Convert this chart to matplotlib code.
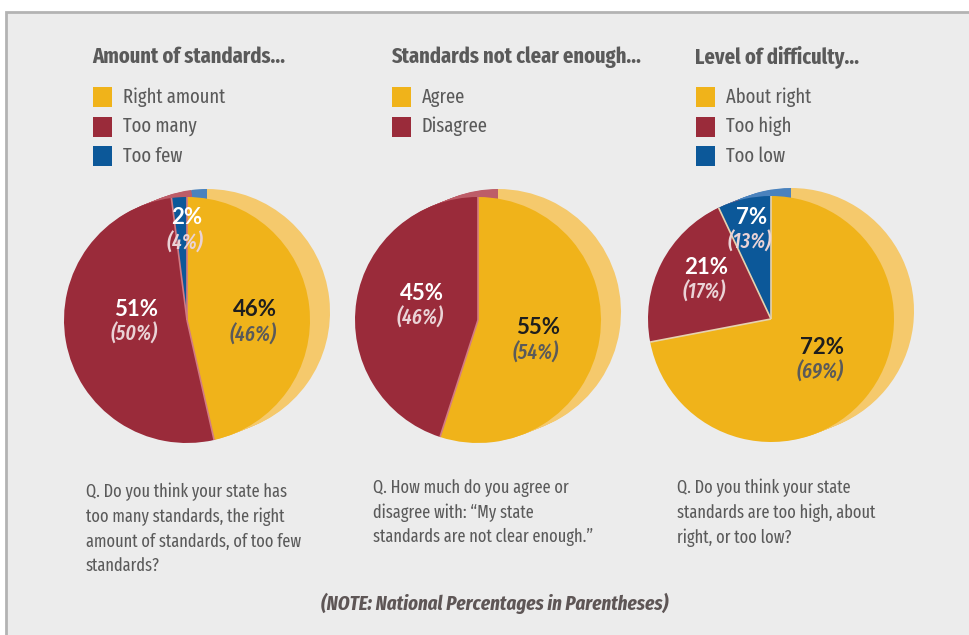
import numpy as np
import matplotlib.pyplot as plt
from matplotlib.patches import Rectangle

W, H = 969, 635

# chart data
titles = ["Amount of standards\u2026", "Standards not clear enough\u2026", "Level of difficulty\u2026"]
labels = [["Right amount", "Too many", "Too few"],
          ["Agree", "Disagree"],
          ["About right", "Too high", "Too low"]]
state_pct = [[46, 51, 2], [55, 45], [72, 21, 7]]
national_pct = [[46, 50, 4], [54, 46], [69, 17, 13]]
questions = ["Q. Do you think your state has\ntoo many standards, the right\namount of standards, of too few\nstandards?",
             "Q. How much do you agree or\ndisagree with: \u201cMy state\nstandards are not clear enough.\u201d",
             "Q. Do you think your state\nstandards are too high, about\nright, or too low?"]
note = "(NOTE: National Percentages in Parentheses)"

colors = ["#f0b31a", "#9a2b3a", "#0c5899"]
side_colors = ["#f5c96c", "#bd5d68", "#4a82bd"]

narrow = ["Fira Sans Extra Condensed", "Roboto Condensed", "DejaVu Sans"]
numfont = ["Lato", "DejaVu Sans"]
grey = "#5a5a5a"

# layout (pixel positions, y measured from top)
centers = [(187, 320), (478, 320), (771, 319)]
radius = 123
title_x = [92, 391, 695]
question_x = [86, 373, 677]
question_y = [483, 479, 479]
# label positions per slice (x, y of the main number)
label_pos = [[(255, 310), (136, 309), (187, 218)],
             [(538, 328), (422, 293)],
             [(822, 347), (706, 267), (752, 217)]]

fig = plt.figure(figsize=(W / 100, H / 100), dpi=100, facecolor="white")
ax = fig.add_axes([0, 0, 1, 1])

ax.add_patch(Rectangle((6, -10), W + 20, H - 12 + 10, facecolor="#ececec",
                       edgecolor="#b3b3b3", linewidth=2, zorder=0))

for i in range(3):
    cx, cy = centers[i]
    n = len(state_pct[i])
    # 3d side: stacked lighter copies shifted up-right
    for t in np.linspace(0.1, 1.0, 10):
        ax.pie(state_pct[i], colors=side_colors[:n], startangle=90, counterclock=False,
               center=(cx + 20 * t, H - cy + 8 * t), radius=radius,
               wedgeprops=dict(linewidth=0), normalize=True)
    wedges, _ = ax.pie(state_pct[i], colors=colors[:n], startangle=90, counterclock=False,
                       center=(cx, H - cy), radius=radius,
                       wedgeprops=dict(linewidth=0), normalize=True)
    # thin light edges between slices
    for w in wedges:
        a = np.deg2rad(w.theta1)
        ax.plot([cx, cx + radius * np.cos(a)], [H - cy, H - cy + radius * np.sin(a)],
                color="#d27b83" if i < 2 else "#e6d2b0", lw=1.2, zorder=5,
                solid_capstyle="butt")

    for j in range(n):
        lx, ly = label_pos[i][j]
        on_yellow = j == 0
        ax.text(lx, H - ly, f"{state_pct[i][j]}%", family=numfont, weight="bold",
                fontsize=16, color="#1e1e1e" if on_yellow else "white",
                ha="center", va="center", zorder=6)
        ax.text(lx - 2, H - ly - 25, f"({national_pct[i][j]}%)", family=narrow,
                style="italic", weight=500, fontsize=15.5,
                color="#5a5a5a" if on_yellow else "#ead3d6",
                ha="center", va="center", zorder=6)

    # title and legend
    ax.text(title_x[i], H - 57, titles[i], family=narrow, weight="bold",
            fontsize=16, color=grey, ha="left", va="center")
    for j, lab in enumerate(labels[i]):
        y = 97 + j * 29.5
        ax.add_patch(Rectangle((title_x[i] + 1, H - y - 10), 19, 20,
                               facecolor=colors[j], edgecolor="none"))
        ax.text(title_x[i] + 31, H - y, lab, family=narrow, fontsize=14.5,
                color=grey, ha="left", va="center")

    ax.text(question_x[i], H - question_y[i], questions[i], family=narrow,
            fontsize=12.8, color=grey, ha="left", va="top", linespacing=1.45)

ax.text(495, H - 604, note, family=narrow, weight="bold", style="italic",
        fontsize=14.8, color="#5e5656", ha="center", va="center")

ax.set_xlim(0, W)
ax.set_ylim(0, H)
ax.axis("off")

fig.savefig("out.png", dpi=100, facecolor="white")
